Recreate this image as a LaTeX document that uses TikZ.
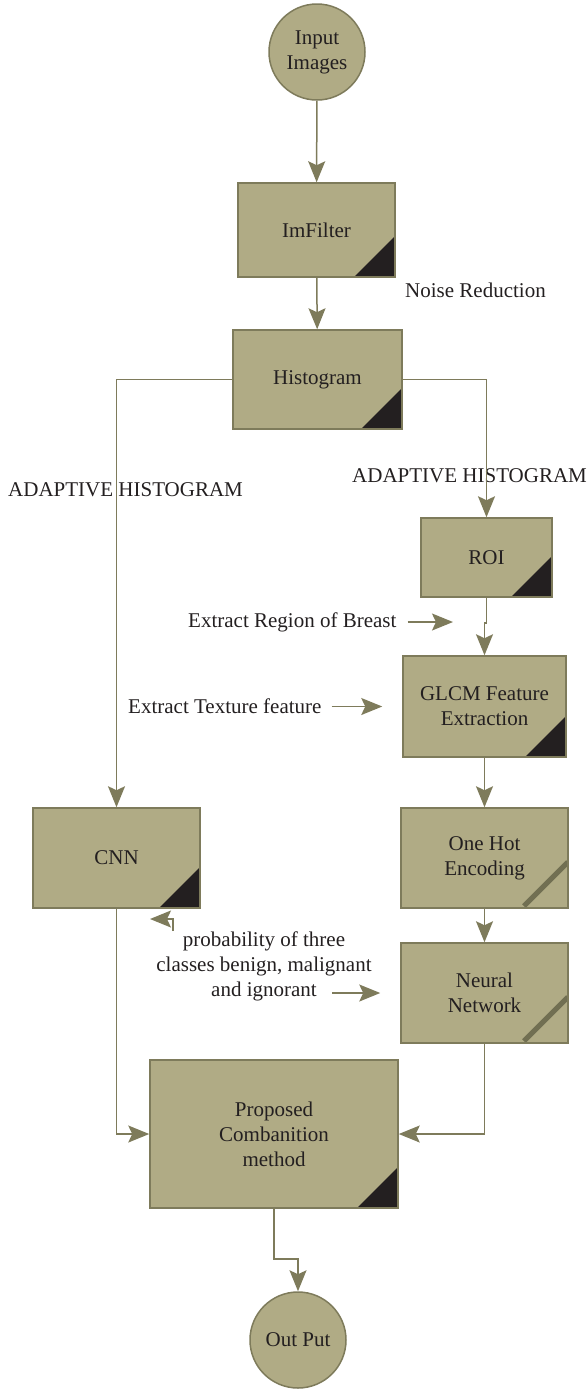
\documentclass[tikz,border=0pt]{standalone}
\usepackage{fontspec}
\setmainfont{Liberation Serif}
\usetikzlibrary{arrows.meta}

\definecolor{khaki}{HTML}{B0AB85}
\definecolor{olive}{HTML}{7E7B5B}
\definecolor{inkdark}{HTML}{231F20}

\tikzset{
  proc/.style={draw=olive, line width=1.5pt, fill=khaki, text=inkdark,
    align=center, inner sep=0pt},
  cornered/.style={proc, path picture={
    \fill[inkdark] (path picture bounding box.south east) -- ++(-41,0) -- ++(41,-41) -- cycle;}},
  slashed/.style={proc, path picture={
    \draw[olive!90!black, line width=5pt] ([shift={(-44,-2)}]path picture bounding box.south east) -- ++(44,-44);}},
  term/.style={circle, draw=olive, line width=1.5pt, fill=khaki, text=inkdark,
    align=center, minimum size=96pt, inner sep=0pt},
  note/.style={text=inkdark, align=center, inner sep=0pt},
  flow/.style={draw=olive, line width=1.5pt, -{Stealth[length=21pt, width=17pt, inset=4pt]}}
}

\begin{document}
\begin{tikzpicture}[x=1pt, y=-1pt, font=\fontsize{21}{25}\selectfont]
    \useasboundingbox (0,0) rectangle (587,1393);

    % Terminals
    \node[term] (input) at (317,52) {Input\\Images};
    \node[term] (output) at (298,1340) {Out Put};

    % Processing steps
    \node[cornered, minimum width=157pt, minimum height=94pt] (imfilter) at (316.5,230) {ImFilter};
    \node[cornered, minimum width=169pt, minimum height=99pt] (histogram) at (317.5,379.5) {Histogram};
    \node[cornered, minimum width=131pt, minimum height=79pt] (roi) at (486.5,557.5) {ROI};
    \node[cornered, minimum width=163pt, minimum height=101pt] (glcm) at (484.5,706.5) {GLCM Feature\\Extraction};
    \node[slashed, minimum width=167pt, minimum height=100pt] (onehot) at (484.5,858) {One Hot\\Encoding};
    \node[slashed, minimum width=167pt, minimum height=100pt] (neural) at (484.5,993) {Neural\\Network};
    \node[cornered, minimum width=167pt, minimum height=100pt] (cnn) at (116.5,858) {CNN};
    \node[cornered, minimum width=248pt, minimum height=148pt] (proposed) at (274,1134) {Proposed\\Combanition\\method};

    % Side notes
    \node[note, anchor=west] (noise) at (405,290) {Noise Reduction};
    \node[note, anchor=west] (adaptleft) at (8,490) {ADAPTIVE HISTOGRAM};
    \node[note, anchor=west] (adaptright) at (352,476) {ADAPTIVE HISTOGRAM};
    \node[note, anchor=west] (regtxt) at (188,622) {Extract Region of Breast};
    \node[note, anchor=west] (textxt) at (128,706.5) {Extract Texture feature};
    \node[note] (probtxt) at (264,966) {probability of three\\classes benign, malignant\\and ignorant};
    \coordinate (regtip) at (453,622);
    \coordinate (probfoot) at (173,931);
    \coordinate (probtip) at (150,919);

    % Main flow
    \draw[flow] (input) -- (imfilter);
    \draw[flow] (imfilter) -- (histogram);
    \draw[flow] (histogram.west) -| (cnn.north);
    \draw[flow] (histogram.east) -| (roi.north);
    \draw[flow] (roi.south) -- ++(0,25) -| (glcm.north);
    \draw[flow] (glcm) -- (onehot);
    \draw[flow] (onehot) -- (neural);
    \draw[flow] (cnn.south) |- (proposed.west);
    \draw[flow] (neural.south) |- (proposed.east);
    \draw[flow] (proposed.south) -- ++(0,50) -| (output.north);

    % Note arrows
    \draw[flow] ([xshift=11pt]regtxt.east) -- (regtip);
    \draw[flow] ([xshift=10pt]textxt.east) -- ([xshift=-20pt]glcm.west);
    \draw[flow] (probfoot) |- (probtip);
    \draw[flow] ([xshift=-68pt]neural.west) -- ([xshift=-20pt]neural.west);
\end{tikzpicture}
\end{document}
